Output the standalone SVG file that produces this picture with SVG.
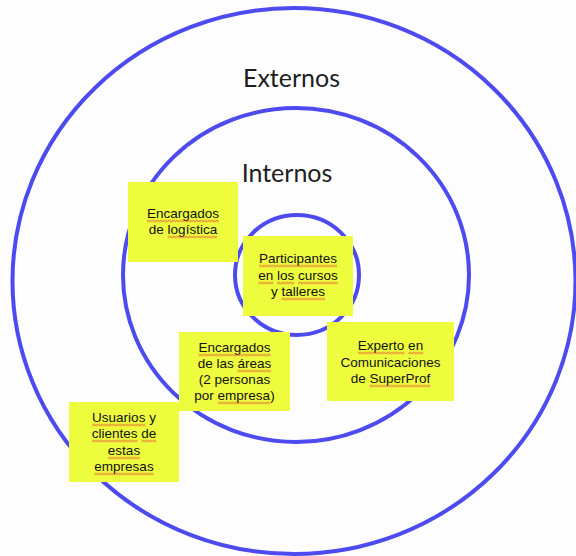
<svg xmlns="http://www.w3.org/2000/svg" width="576" height="556" viewBox="0 0 576 556">
<defs>
<pattern id="wave" patternUnits="userSpaceOnUse" width="4" height="3">
<path d="M0 2.3 L2 0.7 L4 2.3" fill="none" stroke="#e0362c" stroke-width="0.9"/>
</pattern>
</defs>
<style>
.ring{fill:none;stroke:#4d4bf0;stroke-width:4}
.title{font-family:Lato,"Noto Sans",sans-serif;font-size:25px;fill:#1e1e1e;text-anchor:middle}
.note{fill:#eefc3e}
.t{font-family:"Liberation Sans",Arial,sans-serif;font-size:13.5px;fill:#111;text-anchor:middle}
.sq{fill:url(#wave);height:3px}
</style>
<rect width="576" height="556" fill="#fdfdfd"/>
<g id="rings">
<ellipse id="ring-outer" class="ring" cx="294" cy="281" rx="281.5" ry="273"/>
<ellipse id="ring-middle" class="ring" cx="296" cy="275" rx="173" ry="167"/>
<ellipse id="ring-inner" class="ring" cx="297" cy="275" rx="62" ry="60"/>
</g>
<g id="connectors"></g>
<g id="label-externos"><text class="title" x="291.5" y="87">Externos</text></g>
<g id="label-internos"><text class="title" x="287" y="182">Internos</text></g>
<g id="note-logistica">
<rect class="note" x="128" y="182" width="110" height="80"/>
<text class="t" x="183" y="218">Encargados</text>
<text class="t" x="183" y="234">de logística</text>
<rect class="sq" transform="translate(147,219.5)" width="72" height="3"/>
<rect class="sq" transform="translate(167.7,235.5)" width="49.5" height="3"/>
</g>
<g id="note-participantes">
<rect class="note" x="243" y="236" width="110" height="80"/>
<text class="t" x="298" y="263">Participantes</text>
<text class="t" x="298" y="280">en los cursos</text>
<text class="t" x="298" y="296">y talleres</text>
<rect class="sq" transform="translate(259,264.5)" width="78" height="3"/>
<rect class="sq" transform="translate(258.2,281.5)" width="15" height="3"/>
<rect class="sq" transform="translate(277,281.5)" width="17.3" height="3"/>
<rect class="sq" transform="translate(298,281.5)" width="39.8" height="3"/>
<rect class="sq" transform="translate(281.5,297.5)" width="43.5" height="3"/>
</g>
<g id="note-areas">
<rect class="note" x="179" y="332" width="111" height="79"/>
<text class="t" x="234.5" y="352">Encargados</text>
<text class="t" x="234.5" y="368">de las áreas</text>
<text class="t" x="234.5" y="384">(2 personas</text>
<text class="t" x="234.5" y="400">por empresa)</text>
<rect class="sq" transform="translate(198.5,353.5)" width="72" height="3"/>
<rect class="sq" transform="translate(237.5,369.5)" width="33.8" height="3"/>
<rect class="sq" transform="translate(217.7,401.5)" width="52.5" height="3"/>
</g>
<g id="note-experto">
<rect class="note" x="327" y="322" width="127" height="79"/>
<text class="t" x="390.5" y="350">Experto en</text>
<text class="t" x="390.5" y="367">Comunicaciones</text>
<text class="t" x="390.5" y="383">de SuperProf</text>
<rect class="sq" transform="translate(357.9,351.5)" width="46.5" height="3"/>
<rect class="sq" transform="translate(408.2,351.5)" width="15" height="3"/>
<rect class="sq" transform="translate(369.5,384.5)" width="60.8" height="3"/>
</g>
<g id="note-usuarios">
<rect class="note" x="69" y="402" width="110" height="80"/>
<text class="t" x="124" y="422">Usuarios y</text>
<text class="t" x="124" y="438">clientes de</text>
<text class="t" x="124" y="455">estas</text>
<text class="t" x="124" y="471">empresas</text>
<rect class="sq" transform="translate(92.1,423.5)" width="53.3" height="3"/>
<rect class="sq" transform="translate(91.7,439.5)" width="45.8" height="3"/>
<rect class="sq" transform="translate(141.3,439.5)" width="15" height="3"/>
<rect class="sq" transform="translate(107.9,456.5)" width="32.2" height="3"/>
<rect class="sq" transform="translate(94.4,472.5)" width="59.2" height="3"/>
</g>
</svg>
